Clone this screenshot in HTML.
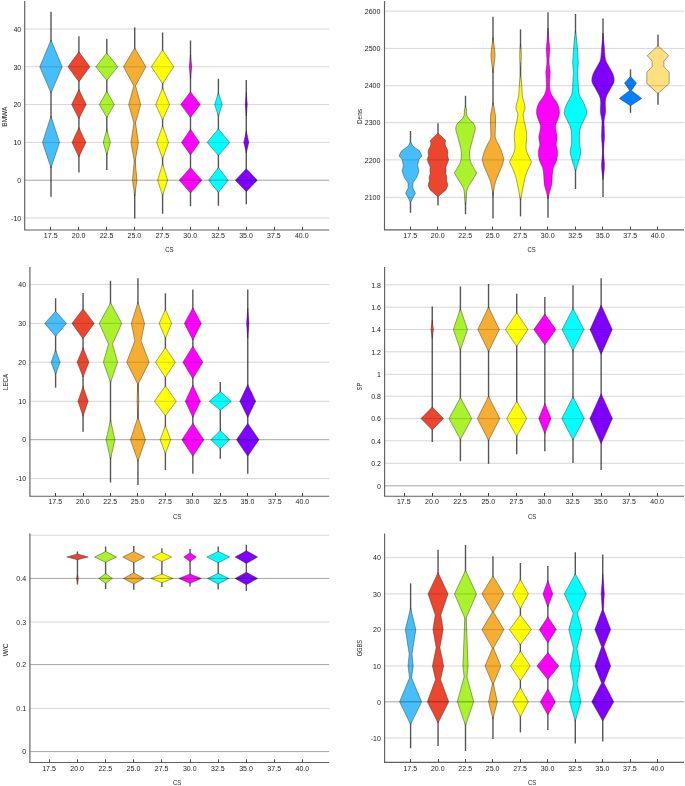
<!DOCTYPE html>
<html><head><meta charset="utf-8"><title>Violin plots</title>
<style>
html,body{margin:0;padding:0;background:#fff}
svg{display:block}
text{font-family:"Liberation Sans",sans-serif;font-size:8.0px;fill:#222}
.w{stroke:#555;stroke-width:1.4;fill:none}
.v{stroke:#222;stroke-opacity:.75;stroke-width:.55;stroke-linejoin:round}
.gl{stroke:#000;stroke-opacity:.16;stroke-width:1}
.gd{stroke:#000;stroke-opacity:.36;stroke-width:1}
.ax{stroke:#606060;stroke-width:1.15;fill:none}
.tk{stroke:#444;stroke-width:1}
</style></head><body>
<svg width="685" height="786" viewBox="0 0 685 786">
<rect width="685" height="786" fill="#fff"/>
<g>
<line class="w" x1="51" y1="11.75" x2="51" y2="196.75"/><polygon class="v" fill="#46befa" points="51,40 62.2,66.8 51,93 39.8,66.8 51,40"/><polygon class="v" fill="#46befa" points="51,116 59.5,142.4 51,168 42.5,142.4 51,116"/>
<line class="w" x1="78.9" y1="36.3" x2="78.9" y2="172.5"/><polygon class="v" fill="#ed462f" points="78.9,51.8 89.9,66.8 78.9,81.8 67.9,66.8 78.9,51.8"/><polygon class="v" fill="#ed462f" points="78.9,89.5 86.15,104.6 78.9,118.8 71.65,104.6 78.9,89.5"/><polygon class="v" fill="#ed462f" points="78.9,127.5 85.8,142.4 78.9,157 72,142.4 78.9,127.5"/>
<line class="w" x1="106.8" y1="38.8" x2="106.8" y2="170"/><polygon class="v" fill="#aaf22b" points="106.8,53 117.8,66.8 106.8,80.5 95.8,66.8 106.8,53"/><polygon class="v" fill="#aaf22b" points="106.8,91.25 114.3,104.6 106.8,117.5 99.3,104.6 106.8,91.25"/><polygon class="v" fill="#aaf22b" points="106.8,129.5 110.4,142.4 106.8,155 103.2,142.4 106.8,129.5"/>
<line class="w" x1="134.7" y1="27.5" x2="134.7" y2="218.5"/><polygon class="v" fill="#f5ae32" points="134.7,48 145.9,66.8 135.6,85.75 140.7,104.6 135.5,123 138.45,142.4 135.2,161 136.95,180.2 134.7,196 132.45,180.2 134.2,161 130.95,142.4 133.9,123 128.7,104.6 133.8,85.75 123.5,66.8 134.7,48"/>
<line class="w" x1="162.6" y1="32.5" x2="162.6" y2="213.75"/><polygon class="v" fill="#ffff00" points="162.6,50 173.8,66.8 162.6,83.75 151.4,66.8 162.6,50"/><polygon class="v" fill="#ffff00" points="162.6,88 169.5,104.6 162.6,120 155.7,104.6 162.6,88"/><polygon class="v" fill="#ffff00" points="162.6,125.75 168.5,142.4 162.6,158.75 156.7,142.4 162.6,125.75"/><polygon class="v" fill="#ffff00" points="162.6,163.75 167.6,180.2 162.6,195.75 157.6,180.2 162.6,163.75"/>
<line class="w" x1="190.5" y1="40.5" x2="190.5" y2="206.25"/><polygon class="v" fill="#ff00ff" points="190.5,55 191.7,66.8 190.5,78.75 189.3,66.8 190.5,55"/><polygon class="v" fill="#ff00ff" points="190.5,91.75 200.25,104.6 190.5,117.5 180.75,104.6 190.5,91.75"/><polygon class="v" fill="#ff00ff" points="190.5,129.25 199.5,142.4 190.5,155 181.5,142.4 190.5,129.25"/><polygon class="v" fill="#ff00ff" points="190.5,167.5 201.75,180.2 190.5,193 179.25,180.2 190.5,167.5"/>
<line class="w" x1="218.4" y1="78.75" x2="218.4" y2="205.75"/><polygon class="v" fill="#00ffff" points="218.4,92.5 222.15,104.6 218.4,116.25 214.65,104.6 218.4,92.5"/><polygon class="v" fill="#00ffff" points="218.4,128.75 229.65,142.4 218.4,155.5 207.15,142.4 218.4,128.75"/><polygon class="v" fill="#00ffff" points="218.4,167.5 228.15,180.2 218.4,192.5 208.65,180.2 218.4,167.5"/>
<line class="w" x1="246.3" y1="80" x2="246.3" y2="204.25"/><polygon class="v" fill="#8000ff" points="246.3,92.5 247.3,104.6 246.3,116 245.3,104.6 246.3,92.5"/><polygon class="v" fill="#8000ff" points="246.3,130.75 248.8,142.4 246.3,153 243.8,142.4 246.3,130.75"/><polygon class="v" fill="#8000ff" points="246.3,168.75 257.3,180.2 246.3,191.75 235.3,180.2 246.3,168.75"/>
<line class="gl" x1="24.7" y1="29" x2="329.2" y2="29"/><line class="gl" x1="24.7" y1="66.8" x2="329.2" y2="66.8"/><line class="gl" x1="24.7" y1="104.6" x2="329.2" y2="104.6"/><line class="gl" x1="24.7" y1="142.4" x2="329.2" y2="142.4"/><line class="gd" x1="24.7" y1="180.2" x2="329.2" y2="180.2"/><line class="gl" x1="24.7" y1="218" x2="329.2" y2="218"/>
<path class="ax" d="M24.7 1V230H329.2"/><line class="tk" x1="50.5" y1="226.8" x2="50.5" y2="230"/><line class="tk" x1="78.5" y1="226.8" x2="78.5" y2="230"/><line class="tk" x1="106.5" y1="226.8" x2="106.5" y2="230"/><line class="tk" x1="134.5" y1="226.8" x2="134.5" y2="230"/><line class="tk" x1="162.5" y1="226.8" x2="162.5" y2="230"/><line class="tk" x1="190.5" y1="226.8" x2="190.5" y2="230"/><line class="tk" x1="218.5" y1="226.8" x2="218.5" y2="230"/><line class="tk" x1="246.5" y1="226.8" x2="246.5" y2="230"/><line class="tk" x1="274.5" y1="226.8" x2="274.5" y2="230"/><line class="tk" x1="302.5" y1="226.8" x2="302.5" y2="230"/>
<text transform="translate(50.7 238.2) scale(0.88 1)" text-anchor="middle">17.5</text><text transform="translate(78.6 238.2) scale(0.88 1)" text-anchor="middle">20.0</text><text transform="translate(106.5 238.2) scale(0.88 1)" text-anchor="middle">22.5</text><text transform="translate(134.4 238.2) scale(0.88 1)" text-anchor="middle">25.0</text><text transform="translate(162.3 238.2) scale(0.88 1)" text-anchor="middle">27.5</text><text transform="translate(190.2 238.2) scale(0.88 1)" text-anchor="middle">30.0</text><text transform="translate(218.1 238.2) scale(0.88 1)" text-anchor="middle">32.5</text><text transform="translate(246 238.2) scale(0.88 1)" text-anchor="middle">35.0</text><text transform="translate(273.9 238.2) scale(0.88 1)" text-anchor="middle">37.5</text><text transform="translate(301.8 238.2) scale(0.88 1)" text-anchor="middle">40.0</text>
<text transform="translate(21.2 31.75) scale(0.88 1)" text-anchor="end">40</text><text transform="translate(21.2 69.55) scale(0.88 1)" text-anchor="end">30</text><text transform="translate(21.2 107.35) scale(0.88 1)" text-anchor="end">20</text><text transform="translate(21.2 145.15) scale(0.88 1)" text-anchor="end">10</text><text transform="translate(21.2 182.95) scale(0.88 1)" text-anchor="end">0</text><text transform="translate(21.2 220.75) scale(0.88 1)" text-anchor="end">-10</text>
<text transform="translate(7.4 116.7) rotate(-90)" text-anchor="middle" textLength="20" lengthAdjust="spacingAndGlyphs">BMWA</text><text x="169.3" y="252.3" text-anchor="middle" textLength="8.2" lengthAdjust="spacingAndGlyphs">CS</text>
</g>
<g>
<line class="w" x1="410.5" y1="131" x2="410.5" y2="212.8"/><polygon class="v" fill="#46befa" points="410.5,141.6 412.5,145.6 415.4,147.9 419.4,150.8 420.9,153.5 421.9,156 418.9,159.4 418.4,162 417.7,165.1 418.1,168 418.9,170.9 417.9,174 416.6,177.8 413.2,182.3 412.8,185 412.9,188.1 415.4,193.2 413.2,197.2 410.5,202.4 407.8,197.2 405.6,193.2 408.1,188.1 408.2,185 407.8,182.3 404.4,177.8 403.1,174 402.1,170.9 402.9,168 403.3,165.1 402.6,162 402.1,159.4 399.1,156 400.1,153.5 401.6,150.8 405.6,147.9 408.5,145.6 410.5,141.6"/>
<line class="w" x1="438" y1="123.3" x2="438" y2="205.5"/><polygon class="v" fill="#ed462f" points="438,133.2 443.5,138.3 445.8,140.6 445,143 445.5,145.8 447.5,149.8 447.9,152.7 447.5,155.5 448.7,159.6 447.5,163 445.8,167 446.1,170.5 445.8,173.9 446.9,177.3 446.6,180.8 447.3,183 447.9,185.4 446.9,187.7 445.8,190 441.8,193.4 438,196.8 434.2,193.4 430.2,190 429.1,187.7 428.1,185.4 428.7,183 429.4,180.8 429.1,177.3 430.2,173.9 429.9,170.5 430.2,167 428.5,163 427.3,159.6 428.5,155.5 428.1,152.7 428.5,149.8 430.5,145.8 431,143 430.2,140.6 432.5,138.3 438,133.2"/>
<line class="w" x1="465.5" y1="95.8" x2="465.5" y2="214.2"/><path class="v" fill="#aaf22b" d="M465.5 106C465.83 107.33 466.24 108.67 466.5 110C466.96 112.33 466.27 114.67 467.5 117C468.73 119.33 472.5 121.67 473.9 124C474.88 125.63 475.3 127.27 475.3 128.9C475.3 130.77 474.38 132.63 473.9 134.5C473 138 471.92 141.5 471.1 145C470.56 147.33 469.7 149.67 469.7 152C469.7 154.57 469.44 157.13 470 159.7C470.46 161.8 471.45 163.9 472.5 166C473.66 168.33 475.58 170.67 476.7 173C475.58 175.33 473.89 177.67 472.5 180C470.85 182.77 468.59 185.53 467.6 188.3C466.08 192.53 466.53 196.77 466 201C465.83 202.33 465.67 203.67 465.5 205C465.33 203.67 465.17 202.33 465 201C464.47 196.77 464.92 192.53 463.4 188.3C462.41 185.53 460.15 182.77 458.5 180C457.11 177.67 455.42 175.33 454.3 173C455.42 170.67 457.34 168.33 458.5 166C459.55 163.9 460.54 161.8 461 159.7C461.56 157.13 461.3 154.57 461.3 152C461.3 149.67 460.44 147.33 459.9 145C459.08 141.5 458 138 457.1 134.5C456.62 132.63 455.7 130.77 455.7 128.9C455.7 127.27 456.12 125.63 457.1 124C458.5 121.67 462.27 119.33 463.5 117C464.73 114.67 464.04 112.33 464.5 110C464.76 108.67 465.17 107.33 465.5 106Z"/>
<line class="w" x1="493" y1="16.8" x2="493" y2="218.5"/><path class="v" fill="#f5ae32" d="M493 37.8C493.4 40.53 493.87 43.27 494.2 46C494.57 49.07 495.1 52.13 495.1 55.2C495.1 58.13 494.55 61.07 494.2 64C493.85 66.9 493.4 69.8 493 72.7C492.6 69.8 492.15 66.9 491.8 64C491.45 61.07 490.9 58.13 490.9 55.2C490.9 52.13 491.43 49.07 491.8 46C492.13 43.27 492.6 40.53 493 37.8Z"/><path class="v" fill="#f5ae32" d="M493 102.6C493.47 104.93 493.98 107.27 494.4 109.6C494.82 111.93 495.5 114.27 495.5 116.6C495.5 118.93 495.5 121.27 495.5 123.6C495.5 127.8 495.1 132 495.1 136.2C495.1 139.47 497.92 142.73 499.3 146C500.28 148.33 501.43 150.67 502.2 153C502.92 155.17 503.37 157.33 503.8 159.5C503.37 161.5 502.89 163.5 502.2 165.5C501.22 168.33 499.75 171.17 498.6 174C497.48 176.77 496.2 179.53 495.4 182.3C494.46 185.53 494.02 188.77 493.5 192C493.29 193.33 493.17 194.67 493 196C492.83 194.67 492.71 193.33 492.5 192C491.98 188.77 491.54 185.53 490.6 182.3C489.8 179.53 488.52 176.77 487.4 174C486.25 171.17 484.78 168.33 483.8 165.5C483.11 163.5 482.63 161.5 482.2 159.5C482.63 157.33 483.08 155.17 483.8 153C484.57 150.67 485.72 148.33 486.7 146C488.08 142.73 490.9 139.47 490.9 136.2C490.9 132 490.5 127.8 490.5 123.6C490.5 121.27 490.5 118.93 490.5 116.6C490.5 114.27 491.18 111.93 491.6 109.6C492.02 107.27 492.53 104.93 493 102.6Z"/>
<line class="w" x1="520.5" y1="29.4" x2="520.5" y2="216.4"/><path class="v" fill="#ffff00" d="M520.5 44C520.75 48 521.25 52 521.25 56C521.25 59.67 520.7 63.33 520.7 67C520.7 70 520.58 73 520.75 76C520.9 78.67 521.37 81.33 521.6 84C521.77 86 521.86 88 522 90C522.16 92.33 522.08 94.67 522.5 97C522.92 99.33 524.03 101.67 524.5 104C524.78 105.4 525 106.8 525 108.2C525 110.3 523.2 112.4 523.2 114.5C523.2 116.33 523.57 118.17 523.9 120C524.45 123.07 525.52 126.13 526 129.2C526.43 131.97 526.7 134.73 526.7 137.5C526.7 140.33 526 143.17 526 146C526 147.83 526.19 149.67 526.7 151.5C527.22 153.37 528.24 155.23 529.1 157.1C529.85 158.73 530.86 160.37 531.5 162C530.7 164.1 529.4 166.2 528.5 168.3C527.3 171.1 526.13 173.9 525.3 176.7C524.18 180.47 523.67 184.23 522.9 188C522.24 191.23 521.67 194.47 521 197.7C520.84 198.47 520.67 199.23 520.5 200C520.33 199.23 520.16 198.47 520 197.7C519.33 194.47 518.76 191.23 518.1 188C517.33 184.23 516.82 180.47 515.7 176.7C514.87 173.9 513.7 171.1 512.5 168.3C511.6 166.2 510.3 164.1 509.5 162C510.14 160.37 511.15 158.73 511.9 157.1C512.76 155.23 513.78 153.37 514.3 151.5C514.81 149.67 515 147.83 515 146C515 143.17 514.3 140.33 514.3 137.5C514.3 134.73 514.57 131.97 515 129.2C515.48 126.13 516.55 123.07 517.1 120C517.43 118.17 517.8 116.33 517.8 114.5C517.8 112.4 516 110.3 516 108.2C516 106.8 516.22 105.4 516.5 104C516.97 101.67 518.08 99.33 518.5 97C518.92 94.67 518.84 92.33 519 90C519.14 88 519.23 86 519.4 84C519.63 81.33 520.1 78.67 520.25 76C520.42 73 520.3 70 520.3 67C520.3 63.33 519.75 59.67 519.75 56C519.75 52 520.25 48 520.5 44Z"/>
<line class="w" x1="548" y1="12.3" x2="548" y2="217.8"/><path class="v" fill="#ff00ff" d="M548 28C548.37 32.67 548.72 37.33 549.1 42C549.33 44.77 549.8 47.53 549.8 50.3C549.8 53.1 549.1 55.9 549.1 58.7C549.1 60.57 549.07 62.43 549.2 64.3C549.39 67.1 550.2 69.9 550.2 72.7C550.2 76.47 549.5 80.23 549.5 84C549.5 86.33 549.63 88.67 550.2 91C550.58 92.53 551.19 94.07 552 95.6C553.48 98.4 556.35 101.2 557.6 104C558.85 106.8 559.5 109.6 559.5 112.4C559.5 114.27 558.81 116.13 558.3 118C557.53 120.8 555.5 123.6 555.5 126.4C555.5 128.27 555.91 130.13 556.2 132C556.48 133.83 557.2 135.67 557.2 137.5C557.2 139.83 556.2 142.17 556.2 144.5C556.2 146.83 557.6 149.17 557.6 151.5C557.6 154.33 557.45 157.17 556.7 160C555.97 162.77 553.96 165.53 553.2 168.3C552.57 170.6 552.53 172.9 552.3 175.2C551.97 178.47 552.18 181.73 551.6 185C551.18 187.33 550.2 189.67 549.6 192C549 194.33 548.53 196.67 548 199C547.47 196.67 547 194.33 546.4 192C545.8 189.67 544.82 187.33 544.4 185C543.82 181.73 544.03 178.47 543.7 175.2C543.47 172.9 543.43 170.6 542.8 168.3C542.04 165.53 540.03 162.77 539.3 160C538.55 157.17 538.4 154.33 538.4 151.5C538.4 149.17 539.8 146.83 539.8 144.5C539.8 142.17 538.8 139.83 538.8 137.5C538.8 135.67 539.52 133.83 539.8 132C540.09 130.13 540.5 128.27 540.5 126.4C540.5 123.6 538.47 120.8 537.7 118C537.19 116.13 536.5 114.27 536.5 112.4C536.5 109.6 537.15 106.8 538.4 104C539.65 101.2 542.52 98.4 544 95.6C544.81 94.07 545.42 92.53 545.8 91C546.37 88.67 546.5 86.33 546.5 84C546.5 80.23 545.8 76.47 545.8 72.7C545.8 69.9 546.61 67.1 546.8 64.3C546.93 62.43 546.9 60.57 546.9 58.7C546.9 55.9 546.2 53.1 546.2 50.3C546.2 47.53 546.67 44.77 546.9 42C547.28 37.33 547.63 32.67 548 28Z"/>
<line class="w" x1="575.5" y1="14" x2="575.5" y2="189"/><path class="v" fill="#00ffff" d="M575.5 30.8C575.97 34.53 576.53 38.27 576.9 42C577.36 46.67 577.6 51.33 577.9 56C578.05 58.33 578.3 60.67 578.3 63C578.3 66.23 577.6 69.47 577.6 72.7C577.6 76.47 578.1 80.23 578.3 84C578.42 86.33 578.27 88.67 578.6 91C578.82 92.53 579.1 94.07 579.7 95.6C580.28 97.07 581.3 98.53 582.1 100C582.83 101.33 583.74 102.67 584.3 104C585.47 106.8 586.7 109.6 586.7 112.4C586.7 114.27 585.75 116.13 585 118C583.88 120.8 581.73 123.6 580.8 126.4C579.87 129.2 579.4 132 579.4 134.8C579.4 137.53 579.4 140.27 579.4 143C579.4 145.83 580.8 148.67 580.8 151.5C580.8 153.83 579.98 156.17 579.4 158.5C578.82 160.83 578.03 163.17 577.3 165.5C576.72 167.33 576.1 169.17 575.5 171C574.9 169.17 574.28 167.33 573.7 165.5C572.97 163.17 572.18 160.83 571.6 158.5C571.02 156.17 570.2 153.83 570.2 151.5C570.2 148.67 571.6 145.83 571.6 143C571.6 140.27 571.6 137.53 571.6 134.8C571.6 132 571.13 129.2 570.2 126.4C569.27 123.6 567.12 120.8 566 118C565.25 116.13 564.3 114.27 564.3 112.4C564.3 109.6 565.53 106.8 566.7 104C567.26 102.67 568.17 101.33 568.9 100C569.7 98.53 570.72 97.07 571.3 95.6C571.9 94.07 572.18 92.53 572.4 91C572.73 88.67 572.58 86.33 572.7 84C572.9 80.23 573.4 76.47 573.4 72.7C573.4 69.47 572.7 66.23 572.7 63C572.7 60.67 572.95 58.33 573.1 56C573.4 51.33 573.64 46.67 574.1 42C574.47 38.27 575.03 34.53 575.5 30.8Z"/>
<line class="w" x1="603" y1="18.4" x2="603" y2="197"/><path class="v" fill="#8000ff" d="M603 33C603.43 37.67 603.9 42.33 604.3 47C604.56 50 604.61 53 605 56C605.21 57.67 605.29 59.33 605.9 61C606.47 62.57 607.64 64.13 608.5 65.7C609.1 66.8 609.7 67.9 610.3 69C611.03 70.33 611.92 71.67 612.5 73C613.08 74.33 613.51 75.67 613.8 77C614.06 78.17 614.2 79.33 614.2 80.5C614.2 81.67 613.72 82.83 613.2 84C612.76 85 611.98 86 611.4 87C610.63 88.33 609.93 89.67 609.2 91C608.47 92.33 607.58 93.67 607 95C606.42 96.33 605.98 97.67 605.7 99C605.42 100.33 605.3 101.67 605.3 103C605.3 105.67 605.6 108.33 605.6 111C605.6 114.67 604 118.33 604 122C604 126.67 604.5 131.33 604.5 136C604.5 141.17 603.5 146.33 603.5 151.5C603.5 156.17 604.5 160.83 604.5 165.5C604.5 170.17 603.5 174.83 603 179.5C602.5 174.83 601.5 170.17 601.5 165.5C601.5 160.83 602.5 156.17 602.5 151.5C602.5 146.33 601.5 141.17 601.5 136C601.5 131.33 602 126.67 602 122C602 118.33 600.4 114.67 600.4 111C600.4 108.33 600.7 105.67 600.7 103C600.7 101.67 600.58 100.33 600.3 99C600.02 97.67 599.58 96.33 599 95C598.42 93.67 597.53 92.33 596.8 91C596.07 89.67 595.37 88.33 594.6 87C594.02 86 593.24 85 592.8 84C592.28 82.83 591.8 81.67 591.8 80.5C591.8 79.33 591.94 78.17 592.2 77C592.49 75.67 592.92 74.33 593.5 73C594.08 71.67 594.97 70.33 595.7 69C596.3 67.9 596.9 66.8 597.5 65.7C598.36 64.13 599.53 62.57 600.1 61C600.71 59.33 600.79 57.67 601 56C601.39 53 601.44 50 601.7 47C602.1 42.33 602.57 37.67 603 33Z"/>
<line class="w" x1="630.5" y1="69.4" x2="630.5" y2="112.8"/><polygon class="v" fill="#0080ff" points="630.5,76.4 636.5,83 631.4,90.4 641.7,98.4 630.5,105.8 619.3,98.4 629.6,90.4 624.5,83 630.5,76.4"/>
<line class="w" x1="658" y1="34.5" x2="658" y2="104.8"/><polygon class="v" fill="#ffdf80" points="658,45.7 668.8,55.7 663.9,61 663.9,66.6 669.2,72.2 669.2,83.4 658,93.6 646.8,83.4 646.8,72.2 652.1,66.6 652.1,61 647.2,55.7 658,45.7"/>
<line class="gl" x1="384.5" y1="11.1" x2="684" y2="11.1"/><line class="gl" x1="384.5" y1="48.4" x2="684" y2="48.4"/><line class="gl" x1="384.5" y1="85.7" x2="684" y2="85.7"/><line class="gl" x1="384.5" y1="122.6" x2="684" y2="122.6"/><line class="gl" x1="384.5" y1="159.9" x2="684" y2="159.9"/><line class="gl" x1="384.5" y1="197.4" x2="684" y2="197.4"/>
<path class="ax" d="M384.5 1V229.8H684"/><line class="tk" x1="410.5" y1="226.6" x2="410.5" y2="229.8"/><line class="tk" x1="437.5" y1="226.6" x2="437.5" y2="229.8"/><line class="tk" x1="465.5" y1="226.6" x2="465.5" y2="229.8"/><line class="tk" x1="492.5" y1="226.6" x2="492.5" y2="229.8"/><line class="tk" x1="520.5" y1="226.6" x2="520.5" y2="229.8"/><line class="tk" x1="547.5" y1="226.6" x2="547.5" y2="229.8"/><line class="tk" x1="575.5" y1="226.6" x2="575.5" y2="229.8"/><line class="tk" x1="602.5" y1="226.6" x2="602.5" y2="229.8"/><line class="tk" x1="630.5" y1="226.6" x2="630.5" y2="229.8"/><line class="tk" x1="657.5" y1="226.6" x2="657.5" y2="229.8"/>
<text transform="translate(410.2 238) scale(0.88 1)" text-anchor="middle">17.5</text><text transform="translate(437.7 238) scale(0.88 1)" text-anchor="middle">20.0</text><text transform="translate(465.2 238) scale(0.88 1)" text-anchor="middle">22.5</text><text transform="translate(492.7 238) scale(0.88 1)" text-anchor="middle">25.0</text><text transform="translate(520.2 238) scale(0.88 1)" text-anchor="middle">27.5</text><text transform="translate(547.7 238) scale(0.88 1)" text-anchor="middle">30.0</text><text transform="translate(575.2 238) scale(0.88 1)" text-anchor="middle">32.5</text><text transform="translate(602.7 238) scale(0.88 1)" text-anchor="middle">35.0</text><text transform="translate(630.2 238) scale(0.88 1)" text-anchor="middle">37.5</text><text transform="translate(657.7 238) scale(0.88 1)" text-anchor="middle">40.0</text>
<text transform="translate(380.4 13.85) scale(0.88 1)" text-anchor="end">2600</text><text transform="translate(380.4 51.15) scale(0.88 1)" text-anchor="end">2500</text><text transform="translate(380.4 88.45) scale(0.88 1)" text-anchor="end">2400</text><text transform="translate(380.4 125.35) scale(0.88 1)" text-anchor="end">2300</text><text transform="translate(380.4 162.65) scale(0.88 1)" text-anchor="end">2200</text><text transform="translate(380.4 200.15) scale(0.88 1)" text-anchor="end">2100</text>
<text transform="translate(362.3 116.5) rotate(-90)" text-anchor="middle" textLength="15.1" lengthAdjust="spacingAndGlyphs">Dens</text><text x="531.7" y="252.4" text-anchor="middle" textLength="8.2" lengthAdjust="spacingAndGlyphs">CS</text>
</g>
<g>
<line class="w" x1="55.6" y1="298.25" x2="55.6" y2="387.6"/><polygon class="v" fill="#46befa" points="55.6,311.25 66.5,323.4 55.6,336.25 44.7,323.4 55.6,311.25"/><polygon class="v" fill="#46befa" points="55.6,350 60.1,362.2 55.6,374.5 51.1,362.2 55.6,350"/>
<line class="w" x1="83.05" y1="293" x2="83.05" y2="431.75"/><polygon class="v" fill="#ed462f" points="83.05,308.75 94.15,323.4 83.05,338.75 71.95,323.4 83.05,308.75"/><polygon class="v" fill="#ed462f" points="83.05,347.75 88.95,362.2 83.05,377 77.15,362.2 83.05,347.75"/><polygon class="v" fill="#ed462f" points="83.05,386.5 88.15,401.3 83.05,416.25 77.95,401.3 83.05,386.5"/>
<line class="w" x1="110.5" y1="280.75" x2="110.5" y2="482.5"/><polygon class="v" fill="#aaf22b" points="110.5,302.75 121.75,323.4 112.5,344 117.6,362.2 110.5,382.6 103.4,362.2 108.5,344 99.25,323.4 110.5,302.75"/><polygon class="v" fill="#aaf22b" points="110.5,420 114.9,439.7 110.5,459.25 106.1,439.7 110.5,420"/>
<line class="w" x1="137.95" y1="278.25" x2="137.95" y2="485"/><polygon class="v" fill="#f5ae32" points="137.95,302 144.55,323.4 141.05,340.75 149.2,362.2 138.25,384 138.85,401.3 138.15,416.5 138.15,417.5 145.45,439.7 137.95,461.25 130.45,439.7 137.75,417.5 137.75,416.5 137.05,401.3 137.65,384 126.7,362.2 134.85,340.75 131.35,323.4 137.95,302"/>
<line class="w" x1="165.4" y1="293.25" x2="165.4" y2="470"/><polygon class="v" fill="#ffff00" points="165.4,309.5 171.65,323.4 165.4,338.25 159.15,323.4 165.4,309.5"/><polygon class="v" fill="#ffff00" points="165.4,347.75 175.3,362.2 165.4,377.5 155.5,362.2 165.4,347.75"/><polygon class="v" fill="#ffff00" points="165.4,386 176.3,401.3 165.4,415.75 154.5,401.3 165.4,386"/><polygon class="v" fill="#ffff00" points="165.4,425.5 170.65,439.7 165.4,453.75 160.15,439.7 165.4,425.5"/>
<line class="w" x1="192.85" y1="289.5" x2="192.85" y2="473.75"/><polygon class="v" fill="#ff00ff" points="192.85,307.75 201.35,323.4 192.85,340 184.35,323.4 192.85,307.75"/><polygon class="v" fill="#ff00ff" points="192.85,346.25 202.85,362.2 192.85,378.75 182.85,362.2 192.85,346.25"/><polygon class="v" fill="#ff00ff" points="192.85,385 200.35,401.3 192.85,417.5 185.35,401.3 192.85,385"/><polygon class="v" fill="#ff00ff" points="192.85,423.25 203.85,439.7 192.85,456.25 181.85,439.7 192.85,423.25"/>
<line class="w" x1="220.3" y1="381.9" x2="220.3" y2="458.75"/><polygon class="v" fill="#00ffff" points="220.3,391.6 231.3,401.3 220.3,410.2 209.3,401.3 220.3,391.6"/><polygon class="v" fill="#00ffff" points="220.3,430.5 229.7,439.7 220.3,448.75 210.9,439.7 220.3,430.5"/>
<line class="w" x1="247.75" y1="289.5" x2="247.75" y2="473.75"/><polygon class="v" fill="#8000ff" points="247.75,308.25 248.95,323.4 247.75,338.25 246.55,323.4 247.75,308.25"/><polygon class="v" fill="#8000ff" points="247.75,384.5 255.65,401.3 247.75,417.5 239.85,401.3 247.75,384.5"/><polygon class="v" fill="#8000ff" points="247.75,423.25 259,439.7 247.75,456.25 236.5,439.7 247.75,423.25"/>
<line class="gl" x1="29.9" y1="284.6" x2="329.2" y2="284.6"/><line class="gl" x1="29.9" y1="323.4" x2="329.2" y2="323.4"/><line class="gl" x1="29.9" y1="362.2" x2="329.2" y2="362.2"/><line class="gl" x1="29.9" y1="401.3" x2="329.2" y2="401.3"/><line class="gd" x1="29.9" y1="439.7" x2="329.2" y2="439.7"/><line class="gl" x1="29.9" y1="478.6" x2="329.2" y2="478.6"/>
<path class="ax" d="M29.9 267V496.2H329.2"/><line class="tk" x1="55.5" y1="493" x2="55.5" y2="496.2"/><line class="tk" x1="83.5" y1="493" x2="83.5" y2="496.2"/><line class="tk" x1="110.5" y1="493" x2="110.5" y2="496.2"/><line class="tk" x1="137.5" y1="493" x2="137.5" y2="496.2"/><line class="tk" x1="165.5" y1="493" x2="165.5" y2="496.2"/><line class="tk" x1="192.5" y1="493" x2="192.5" y2="496.2"/><line class="tk" x1="220.5" y1="493" x2="220.5" y2="496.2"/><line class="tk" x1="247.5" y1="493" x2="247.5" y2="496.2"/><line class="tk" x1="275.5" y1="493" x2="275.5" y2="496.2"/><line class="tk" x1="302.5" y1="493" x2="302.5" y2="496.2"/>
<text transform="translate(55.3 504.4) scale(0.88 1)" text-anchor="middle">17.5</text><text transform="translate(82.75 504.4) scale(0.88 1)" text-anchor="middle">20.0</text><text transform="translate(110.2 504.4) scale(0.88 1)" text-anchor="middle">22.5</text><text transform="translate(137.65 504.4) scale(0.88 1)" text-anchor="middle">25.0</text><text transform="translate(165.1 504.4) scale(0.88 1)" text-anchor="middle">27.5</text><text transform="translate(192.55 504.4) scale(0.88 1)" text-anchor="middle">30.0</text><text transform="translate(220 504.4) scale(0.88 1)" text-anchor="middle">32.5</text><text transform="translate(247.45 504.4) scale(0.88 1)" text-anchor="middle">35.0</text><text transform="translate(274.9 504.4) scale(0.88 1)" text-anchor="middle">37.5</text><text transform="translate(302.35 504.4) scale(0.88 1)" text-anchor="middle">40.0</text>
<text transform="translate(26.1 287.35) scale(0.88 1)" text-anchor="end">40</text><text transform="translate(26.1 326.15) scale(0.88 1)" text-anchor="end">30</text><text transform="translate(26.1 364.95) scale(0.88 1)" text-anchor="end">20</text><text transform="translate(26.1 404.05) scale(0.88 1)" text-anchor="end">10</text><text transform="translate(26.1 442.45) scale(0.88 1)" text-anchor="end">0</text><text transform="translate(26.1 481.35) scale(0.88 1)" text-anchor="end">-10</text>
<text transform="translate(7.5 381.9) rotate(-90)" text-anchor="middle" textLength="16.1" lengthAdjust="spacingAndGlyphs">LECA</text><text x="177.2" y="518.7" text-anchor="middle" textLength="8.2" lengthAdjust="spacingAndGlyphs">CS</text>
</g>
<g>
<line class="w" x1="432.25" y1="306.5" x2="432.25" y2="442"/><polygon class="v" fill="#ed462f" points="432.25,320.25 433.45,329.5 432.25,338.25 431.05,329.5 432.25,320.25"/><polygon class="v" fill="#ed462f" points="432.25,407 443.5,418.6 432.25,430 421,418.6 432.25,407"/>
<line class="w" x1="460.4" y1="286.5" x2="460.4" y2="461.25"/><polygon class="v" fill="#aaf22b" points="460.4,308.75 467.5,329.5 460.4,350 453.3,329.5 460.4,308.75"/><polygon class="v" fill="#aaf22b" points="460.4,397.5 471.8,418.6 460.4,439.5 449,418.6 460.4,397.5"/>
<line class="w" x1="488.55" y1="284" x2="488.55" y2="463.75"/><polygon class="v" fill="#f5ae32" points="488.55,307 499.3,329.5 488.55,351.5 477.8,329.5 488.55,307"/><polygon class="v" fill="#f5ae32" points="488.55,396.25 499.8,418.6 488.55,440.5 477.3,418.6 488.55,396.25"/>
<line class="w" x1="516.7" y1="293.75" x2="516.7" y2="454.25"/><polygon class="v" fill="#ffff00" points="516.7,312.75 527.95,329.5 516.7,346.5 505.45,329.5 516.7,312.75"/><polygon class="v" fill="#ffff00" points="516.7,401.25 526.7,418.6 516.7,436.25 506.7,418.6 516.7,401.25"/>
<line class="w" x1="544.85" y1="297" x2="544.85" y2="451.25"/><polygon class="v" fill="#ff00ff" points="544.85,314 555.95,329.5 544.85,345 533.75,329.5 544.85,314"/><polygon class="v" fill="#ff00ff" points="544.85,403.25 550.95,418.6 544.85,433.75 538.75,418.6 544.85,403.25"/>
<line class="w" x1="573" y1="285.25" x2="573" y2="463"/><polygon class="v" fill="#00ffff" points="573,308.25 583.9,329.5 573,350.75 562.1,329.5 573,308.25"/><polygon class="v" fill="#00ffff" points="573,396.75 584.25,418.6 573,440 561.75,418.6 573,396.75"/>
<line class="w" x1="601.15" y1="278.25" x2="601.15" y2="470"/><polygon class="v" fill="#8000ff" points="601.15,305 612.25,329.5 601.15,354.5 590.05,329.5 601.15,305"/><polygon class="v" fill="#8000ff" points="601.15,393.75 612.4,418.6 601.15,443.75 589.9,418.6 601.15,393.75"/>
<line class="gl" x1="384.6" y1="284.8" x2="684" y2="284.8"/><line class="gl" x1="384.6" y1="307.2" x2="684" y2="307.2"/><line class="gl" x1="384.6" y1="329.5" x2="684" y2="329.5"/><line class="gl" x1="384.6" y1="351.8" x2="684" y2="351.8"/><line class="gl" x1="384.6" y1="374.3" x2="684" y2="374.3"/><line class="gl" x1="384.6" y1="396.2" x2="684" y2="396.2"/><line class="gl" x1="384.6" y1="418.6" x2="684" y2="418.6"/><line class="gl" x1="384.6" y1="440.8" x2="684" y2="440.8"/><line class="gl" x1="384.6" y1="463.3" x2="684" y2="463.3"/><line class="gd" x1="384.6" y1="485.8" x2="684" y2="485.8"/>
<path class="ax" d="M384.6 267V496.2H684"/><line class="tk" x1="404.5" y1="493" x2="404.5" y2="496.2"/><line class="tk" x1="432.5" y1="493" x2="432.5" y2="496.2"/><line class="tk" x1="460.5" y1="493" x2="460.5" y2="496.2"/><line class="tk" x1="488.5" y1="493" x2="488.5" y2="496.2"/><line class="tk" x1="516.5" y1="493" x2="516.5" y2="496.2"/><line class="tk" x1="544.5" y1="493" x2="544.5" y2="496.2"/><line class="tk" x1="572.5" y1="493" x2="572.5" y2="496.2"/><line class="tk" x1="601.5" y1="493" x2="601.5" y2="496.2"/><line class="tk" x1="629.5" y1="493" x2="629.5" y2="496.2"/><line class="tk" x1="657.5" y1="493" x2="657.5" y2="496.2"/>
<text transform="translate(403.8 504.4) scale(0.88 1)" text-anchor="middle">17.5</text><text transform="translate(431.95 504.4) scale(0.88 1)" text-anchor="middle">20.0</text><text transform="translate(460.1 504.4) scale(0.88 1)" text-anchor="middle">22.5</text><text transform="translate(488.25 504.4) scale(0.88 1)" text-anchor="middle">25.0</text><text transform="translate(516.4 504.4) scale(0.88 1)" text-anchor="middle">27.5</text><text transform="translate(544.55 504.4) scale(0.88 1)" text-anchor="middle">30.0</text><text transform="translate(572.7 504.4) scale(0.88 1)" text-anchor="middle">32.5</text><text transform="translate(600.85 504.4) scale(0.88 1)" text-anchor="middle">35.0</text><text transform="translate(629 504.4) scale(0.88 1)" text-anchor="middle">37.5</text><text transform="translate(657.15 504.4) scale(0.88 1)" text-anchor="middle">40.0</text>
<text transform="translate(380.9 287.55) scale(0.88 1)" text-anchor="end">1.8</text><text transform="translate(380.9 309.95) scale(0.88 1)" text-anchor="end">1.6</text><text transform="translate(380.9 332.25) scale(0.88 1)" text-anchor="end">1.4</text><text transform="translate(380.9 354.55) scale(0.88 1)" text-anchor="end">1.2</text><text transform="translate(380.9 377.05) scale(0.88 1)" text-anchor="end">1</text><text transform="translate(380.9 398.95) scale(0.88 1)" text-anchor="end">0.8</text><text transform="translate(380.9 421.35) scale(0.88 1)" text-anchor="end">0.6</text><text transform="translate(380.9 443.55) scale(0.88 1)" text-anchor="end">0.4</text><text transform="translate(380.9 466.05) scale(0.88 1)" text-anchor="end">0.2</text><text transform="translate(380.9 488.55) scale(0.88 1)" text-anchor="end">0</text>
<text transform="translate(362.1 386.6) rotate(-90)" text-anchor="middle" textLength="7.6" lengthAdjust="spacingAndGlyphs">SP</text><text x="532" y="518.7" text-anchor="middle" textLength="8.2" lengthAdjust="spacingAndGlyphs">CS</text>
</g>
<g>
<line class="w" x1="77.45" y1="551.5" x2="77.45" y2="584.5"/><polygon class="v" fill="#ed462f" points="77.45,554 88.2,557 77.45,559.75 66.7,557 77.45,554"/><polygon class="v" fill="#ed462f" points="77.45,575.25 78.35,578.4 77.45,581.5 76.55,578.4 77.45,575.25"/>
<line class="w" x1="105.6" y1="546.5" x2="105.6" y2="589"/><polygon class="v" fill="#aaf22b" points="105.6,551.5 116.6,557 105.6,562.25 94.6,557 105.6,551.5"/><polygon class="v" fill="#aaf22b" points="105.6,573.5 112.35,578.4 105.6,583.5 98.85,578.4 105.6,573.5"/>
<line class="w" x1="133.75" y1="546" x2="133.75" y2="589.75"/><polygon class="v" fill="#f5ae32" points="133.75,551.5 144.75,557 133.75,562.75 122.75,557 133.75,551.5"/><polygon class="v" fill="#f5ae32" points="133.75,572.75 144,578.4 133.75,584 123.5,578.4 133.75,572.75"/>
<line class="w" x1="161.9" y1="548.25" x2="161.9" y2="587"/><polygon class="v" fill="#ffff00" points="161.9,552.25 171.65,557 161.9,561.5 152.15,557 161.9,552.25"/><polygon class="v" fill="#ffff00" points="161.9,574 172.9,578.4 161.9,582.75 150.9,578.4 161.9,574"/>
<line class="w" x1="190.05" y1="549" x2="190.05" y2="586.5"/><polygon class="v" fill="#ff00ff" points="190.05,552.75 196.3,557 190.05,561.5 183.8,557 190.05,552.75"/><polygon class="v" fill="#ff00ff" points="190.05,574 201.3,578.4 190.05,583.25 178.8,578.4 190.05,574"/>
<line class="w" x1="218.2" y1="546.5" x2="218.2" y2="589.5"/><polygon class="v" fill="#00ffff" points="218.2,551.5 229.6,557 218.2,562.75 206.8,557 218.2,551.5"/><polygon class="v" fill="#00ffff" points="218.2,573.25 228.8,578.4 218.2,584 207.6,578.4 218.2,573.25"/>
<line class="w" x1="246.35" y1="544.75" x2="246.35" y2="591"/><polygon class="v" fill="#8000ff" points="246.35,550.75 257.6,557 246.35,563.5 235.1,557 246.35,550.75"/><polygon class="v" fill="#8000ff" points="246.35,572.25 257.6,578.4 246.35,584.75 235.1,578.4 246.35,572.25"/>
<line class="gl" x1="29.9" y1="535.2" x2="329.2" y2="535.2"/><line class="gd" x1="29.9" y1="578.4" x2="329.2" y2="578.4"/><line class="gl" x1="29.9" y1="622" x2="329.2" y2="622"/><line class="gd" x1="29.9" y1="664.6" x2="329.2" y2="664.6"/><line class="gl" x1="29.9" y1="708.4" x2="329.2" y2="708.4"/><line class="gd" x1="29.9" y1="751.6" x2="329.2" y2="751.6"/>
<path class="ax" d="M29.9 533.5V762.5H329.2"/><line class="tk" x1="49.5" y1="759.3" x2="49.5" y2="762.5"/><line class="tk" x1="77.5" y1="759.3" x2="77.5" y2="762.5"/><line class="tk" x1="105.5" y1="759.3" x2="105.5" y2="762.5"/><line class="tk" x1="133.5" y1="759.3" x2="133.5" y2="762.5"/><line class="tk" x1="161.5" y1="759.3" x2="161.5" y2="762.5"/><line class="tk" x1="190.5" y1="759.3" x2="190.5" y2="762.5"/><line class="tk" x1="218.5" y1="759.3" x2="218.5" y2="762.5"/><line class="tk" x1="246.5" y1="759.3" x2="246.5" y2="762.5"/><line class="tk" x1="274.5" y1="759.3" x2="274.5" y2="762.5"/><line class="tk" x1="302.5" y1="759.3" x2="302.5" y2="762.5"/>
<text transform="translate(49 770.7) scale(0.88 1)" text-anchor="middle">17.5</text><text transform="translate(77.15 770.7) scale(0.88 1)" text-anchor="middle">20.0</text><text transform="translate(105.3 770.7) scale(0.88 1)" text-anchor="middle">22.5</text><text transform="translate(133.45 770.7) scale(0.88 1)" text-anchor="middle">25.0</text><text transform="translate(161.6 770.7) scale(0.88 1)" text-anchor="middle">27.5</text><text transform="translate(189.75 770.7) scale(0.88 1)" text-anchor="middle">30.0</text><text transform="translate(217.9 770.7) scale(0.88 1)" text-anchor="middle">32.5</text><text transform="translate(246.05 770.7) scale(0.88 1)" text-anchor="middle">35.0</text><text transform="translate(274.2 770.7) scale(0.88 1)" text-anchor="middle">37.5</text><text transform="translate(302.35 770.7) scale(0.88 1)" text-anchor="middle">40.0</text>
<text transform="translate(26.1 581.15) scale(0.88 1)" text-anchor="end">0.4</text><text transform="translate(26.1 624.75) scale(0.88 1)" text-anchor="end">0.3</text><text transform="translate(26.1 667.35) scale(0.88 1)" text-anchor="end">0.2</text><text transform="translate(26.1 711.15) scale(0.88 1)" text-anchor="end">0.1</text><text transform="translate(26.1 754.35) scale(0.88 1)" text-anchor="end">0</text>
<text transform="translate(7.5 649.85) rotate(-90)" text-anchor="middle" textLength="12.9" lengthAdjust="spacingAndGlyphs">W/C</text><text x="177.2" y="784.6" text-anchor="middle" textLength="8.2" lengthAdjust="spacingAndGlyphs">CS</text>
</g>
<g>
<line class="w" x1="410.6" y1="583.4" x2="410.6" y2="748.3"/><polygon class="v" fill="#46befa" points="410.6,608 415.85,629.6 412,654 413.2,666 411.6,677.7 421.6,701.8 410.6,724.6 399.6,701.8 409.6,677.7 408,666 409.2,654 405.35,629.6 410.6,608"/>
<line class="w" x1="438.05" y1="549.8" x2="438.05" y2="746"/><polygon class="v" fill="#ed462f" points="438.05,572.6 448.05,593.9 440.85,615 443.15,629.6 439.95,647.5 443.65,666 440.55,679.4 448.75,701.8 438.05,723 427.35,701.8 435.55,679.4 432.45,666 436.15,647.5 432.95,629.6 435.25,615 428.05,593.9 438.05,572.6"/>
<line class="w" x1="465.5" y1="544.9" x2="465.5" y2="751"/><polygon class="v" fill="#aaf22b" points="465.5,570.3 476.5,593.9 466.2,618.1 468.1,666 466.9,676.8 473.7,701.8 465.5,725.5 457.3,701.8 464.1,676.8 462.9,666 464.8,618.1 454.5,593.9 465.5,570.3"/>
<line class="w" x1="492.95" y1="556.3" x2="492.95" y2="739"/><polygon class="v" fill="#f5ae32" points="492.95,575.9 503.95,593.9 493.45,612 503.95,629.6 493.45,648.1 500.85,666 493.45,683.8 497.35,701.8 492.95,719 488.55,701.8 492.45,683.8 485.05,666 492.45,648.1 481.95,629.6 492.45,612 481.95,593.9 492.95,575.9"/>
<line class="w" x1="520.4" y1="563" x2="520.4" y2="732.4"/><polygon class="v" fill="#ffff00" points="520.4,579.4 528.4,593.9 520.4,608.5 512.4,593.9 520.4,579.4"/><polygon class="v" fill="#ffff00" points="520.4,615 531.4,629.6 520.4,644.6 509.4,629.6 520.4,615"/><polygon class="v" fill="#ffff00" points="520.4,651.2 530.2,666 520.4,680.7 510.6,666 520.4,651.2"/><polygon class="v" fill="#ffff00" points="520.4,687.7 528.3,701.8 520.4,716.7 512.5,701.8 520.4,687.7"/>
<line class="w" x1="547.85" y1="566" x2="547.85" y2="730"/><polygon class="v" fill="#ff00ff" points="547.85,580.5 552.75,593.9 547.85,607.1 542.95,593.9 547.85,580.5"/><polygon class="v" fill="#ff00ff" points="547.85,616.7 556.25,629.6 547.85,643 539.45,629.6 547.85,616.7"/><polygon class="v" fill="#ff00ff" points="547.85,652.6 558.75,666 547.85,679.5 536.95,666 547.85,652.6"/><polygon class="v" fill="#ff00ff" points="547.85,689 555.35,701.8 547.85,715 540.35,701.8 547.85,689"/>
<line class="w" x1="575.3" y1="552.3" x2="575.3" y2="743.5"/><polygon class="v" fill="#00ffff" points="575.3,573.8 586.3,593.9 577.3,613.2 581.8,629.6 577,648.6 580.2,666 577.05,683.8 580.9,701.8 575.3,721.5 569.7,701.8 573.55,683.8 570.4,666 573.6,648.6 568.8,629.6 573.3,613.2 564.3,593.9 575.3,573.8"/>
<line class="w" x1="602.75" y1="554.5" x2="602.75" y2="741.4"/><polygon class="v" fill="#8000ff" points="602.75,573.8 604.35,593.9 603.25,609.7 610.65,629.6 603.85,646.8 610.65,666 603.95,683 613.75,701.8 602.75,721 591.75,701.8 601.55,683 594.85,666 601.65,646.8 594.85,629.6 602.25,609.7 601.15,593.9 602.75,573.8"/>
<line class="gl" x1="384.6" y1="557.6" x2="684" y2="557.6"/><line class="gl" x1="384.6" y1="593.9" x2="684" y2="593.9"/><line class="gl" x1="384.6" y1="629.6" x2="684" y2="629.6"/><line class="gl" x1="384.6" y1="666" x2="684" y2="666"/><line class="gd" x1="384.6" y1="701.8" x2="684" y2="701.8"/><line class="gl" x1="384.6" y1="738" x2="684" y2="738"/>
<path class="ax" d="M384.6 533.5V762.3H684"/><line class="tk" x1="410.5" y1="759.1" x2="410.5" y2="762.3"/><line class="tk" x1="438.5" y1="759.1" x2="438.5" y2="762.3"/><line class="tk" x1="465.5" y1="759.1" x2="465.5" y2="762.3"/><line class="tk" x1="492.5" y1="759.1" x2="492.5" y2="762.3"/><line class="tk" x1="520.5" y1="759.1" x2="520.5" y2="762.3"/><line class="tk" x1="547.5" y1="759.1" x2="547.5" y2="762.3"/><line class="tk" x1="575.5" y1="759.1" x2="575.5" y2="762.3"/><line class="tk" x1="602.5" y1="759.1" x2="602.5" y2="762.3"/><line class="tk" x1="630.5" y1="759.1" x2="630.5" y2="762.3"/><line class="tk" x1="657.5" y1="759.1" x2="657.5" y2="762.3"/>
<text transform="translate(410.3 770.5) scale(0.88 1)" text-anchor="middle">17.5</text><text transform="translate(437.75 770.5) scale(0.88 1)" text-anchor="middle">20.0</text><text transform="translate(465.2 770.5) scale(0.88 1)" text-anchor="middle">22.5</text><text transform="translate(492.65 770.5) scale(0.88 1)" text-anchor="middle">25.0</text><text transform="translate(520.1 770.5) scale(0.88 1)" text-anchor="middle">27.5</text><text transform="translate(547.55 770.5) scale(0.88 1)" text-anchor="middle">30.0</text><text transform="translate(575 770.5) scale(0.88 1)" text-anchor="middle">32.5</text><text transform="translate(602.45 770.5) scale(0.88 1)" text-anchor="middle">35.0</text><text transform="translate(629.9 770.5) scale(0.88 1)" text-anchor="middle">37.5</text><text transform="translate(657.35 770.5) scale(0.88 1)" text-anchor="middle">40.0</text>
<text transform="translate(380.9 560.35) scale(0.88 1)" text-anchor="end">40</text><text transform="translate(380.9 596.65) scale(0.88 1)" text-anchor="end">30</text><text transform="translate(380.9 632.35) scale(0.88 1)" text-anchor="end">20</text><text transform="translate(380.9 668.75) scale(0.88 1)" text-anchor="end">10</text><text transform="translate(380.9 704.55) scale(0.88 1)" text-anchor="end">0</text><text transform="translate(380.9 740.75) scale(0.88 1)" text-anchor="end">-10</text>
<text transform="translate(362.1 648.1) rotate(-90)" text-anchor="middle" textLength="16.4" lengthAdjust="spacingAndGlyphs">GGBS</text><text x="532" y="784.6" text-anchor="middle" textLength="8.2" lengthAdjust="spacingAndGlyphs">CS</text>
</g>
</svg>
</body></html>
